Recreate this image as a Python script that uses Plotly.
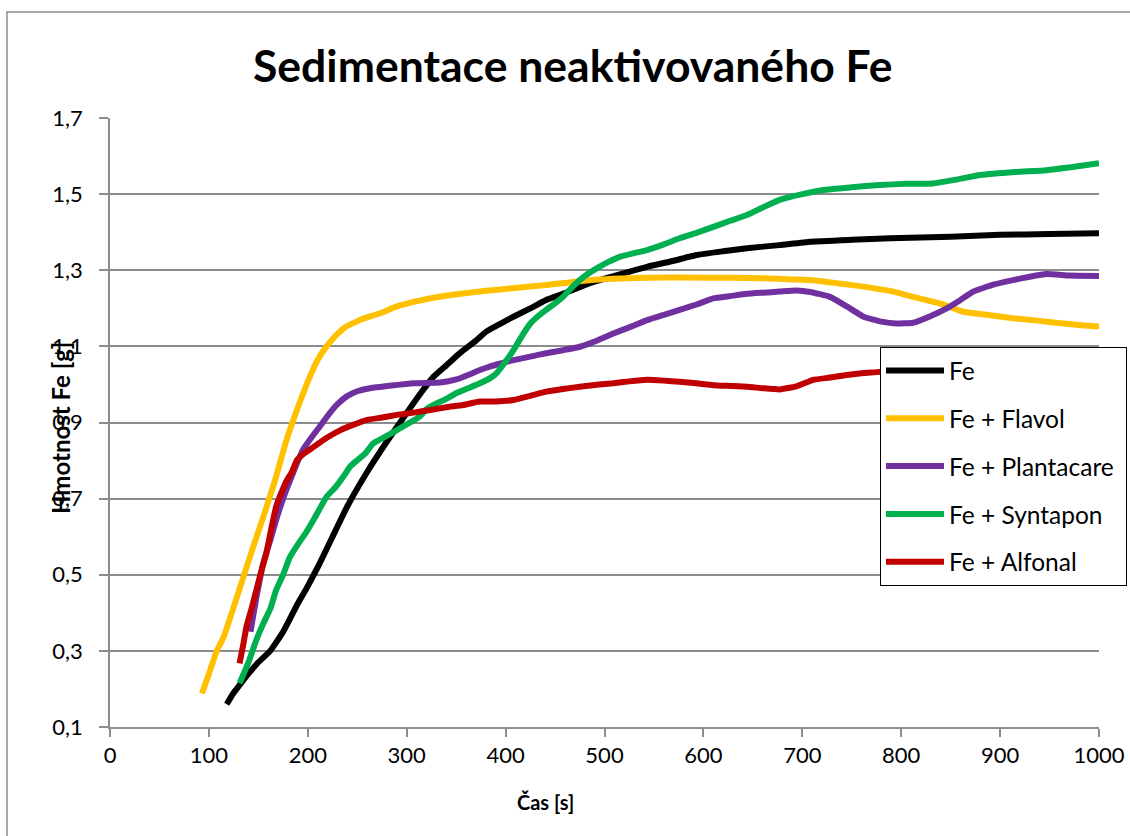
import plotly.graph_objects as go

# ---- data ----
fe_x = [118,125,131,140,150,162,175,189,200,212,225,240,260,280,300,315,327,340,354,370,381,395,408,425,441,460,485,510,543,570,593,620,644,677,708,750,789,850,900,950,1000]
fe_y = [0.16,0.19,0.21,0.24,0.27,0.30,0.35,0.42,0.47,0.53,0.60,0.68,0.77,0.85,0.925,0.98,1.02,1.05,1.083,1.115,1.14,1.16,1.178,1.20,1.222,1.24,1.266,1.285,1.309,1.325,1.34,1.35,1.358,1.366,1.375,1.38,1.384,1.388,1.393,1.395,1.397]

flavol_x = [93,100,108,115,125,135,145,155,167,178,189,202,210,219,229,239,255,273,290,307,330,357,380,404,441,485,543,580,627,660,690,711,735,762,790,812,840,863,890,913,940,964,985,1000]
flavol_y = [0.188,0.24,0.30,0.337,0.415,0.495,0.575,0.652,0.749,0.85,0.933,1.02,1.065,1.10,1.13,1.152,1.172,1.187,1.205,1.217,1.229,1.239,1.246,1.252,1.261,1.274,1.28,1.281,1.28,1.279,1.276,1.274,1.266,1.257,1.245,1.23,1.212,1.191,1.182,1.174,1.167,1.16,1.155,1.152]

plant_x = [142,148,155,162,168,175,185,195,205,212,222,230,239,250,263,285,307,334,350,364,374,384,395,408,425,441,458,475,492,509,525,543,560,576,593,610,627,644,660,677,694,708,728,745,762,780,795,812,830,846,860,873,893,913,930,947,970,1000]
plant_y = [0.35,0.44,0.53,0.59,0.644,0.70,0.767,0.828,0.865,0.889,0.924,0.948,0.968,0.982,0.99,0.997,1.003,1.005,1.013,1.027,1.038,1.047,1.055,1.064,1.073,1.082,1.09,1.099,1.115,1.134,1.15,1.169,1.183,1.196,1.21,1.226,1.232,1.238,1.241,1.244,1.247,1.243,1.23,1.205,1.178,1.165,1.16,1.162,1.18,1.2,1.222,1.244,1.262,1.274,1.283,1.29,1.286,1.285]

synt_x = [131,140,148,155,162,168,175,182,190,198,206,219,228,236,243,250,258,266,278,290,302,313,320,327,340,350,362,374,384,391,400,408,416,425,433,441,450,458,466,475,483,492,504,516,530,543,560,576,593,610,627,644,660,677,700,721,750,778,805,832,855,880,915,947,975,1000]
synt_y = [0.215,0.27,0.329,0.372,0.41,0.46,0.50,0.547,0.58,0.61,0.645,0.705,0.73,0.758,0.785,0.801,0.818,0.845,0.862,0.88,0.898,0.915,0.935,0.946,0.962,0.977,0.99,1.003,1.016,1.03,1.06,1.09,1.125,1.16,1.18,1.196,1.213,1.23,1.252,1.274,1.29,1.305,1.322,1.336,1.345,1.353,1.368,1.384,1.398,1.414,1.43,1.445,1.465,1.485,1.5,1.511,1.518,1.524,1.527,1.528,1.538,1.55,1.558,1.563,1.572,1.581]

alf_x = [131,135,138,143,148,153,158,163,168,174,179,184,189,197,206,218,233,245,260,275,290,307,324,340,357,374,390,408,425,441,458,475,492,509,525,543,560,576,593,610,627,644,660,677,694,711,728,745,762,778,800,830,860,900,950,1000]
alf_y = [0.267,0.32,0.364,0.41,0.46,0.51,0.556,0.62,0.679,0.72,0.749,0.77,0.801,0.82,0.836,0.858,0.88,0.893,0.907,0.913,0.92,0.926,0.933,0.94,0.946,0.955,0.955,0.959,0.97,0.981,0.988,0.994,0.999,1.003,1.008,1.012,1.01,1.007,1.003,0.998,0.996,0.994,0.99,0.987,0.995,1.012,1.018,1.025,1.03,1.033,1.04,1.045,1.05,1.055,1.06,1.065]

series_names = ["Fe", "Fe + Flavol", "Fe + Plantacare", "Fe + Syntapon", "Fe + Alfonal"]
series_x = [fe_x, flavol_x, plant_x, synt_x, alf_x]
series_y = [fe_y, flavol_y, plant_y, synt_y, alf_y]
colors = ["#000000", "#FFC000", "#7030A0", "#00B050", "#C00000"]

y_ticks = [0.1, 0.3, 0.5, 0.7, 0.9, 1.1, 1.3, 1.5, 1.7]
x_ticks = [0, 100, 200, 300, 400, 500, 600, 700, 800, 900, 1000]

FONT = "Lato"
fig = go.Figure()
for i, (n, xs, ys, c) in enumerate(zip(series_names, series_x, series_y, colors)):
    fig.add_trace(go.Scatter(x=xs, y=ys, mode="lines", name=n + "\u00a0", legendgroup=f"g{i}",
                             line=dict(color=c, width=6, shape="spline", smoothing=0.4)))

grid = "#8C8C8C"
fig.update_layout(
    width=1130, height=836,
    margin=dict(l=110, r=31, t=118, b=109, autoexpand=False),
    paper_bgcolor="white", plot_bgcolor="white",
    separators=", ",
    font=dict(family=FONT, size=22, color="#000000"),
    showlegend=True,
    legend=dict(x=(880 - 110) / 989, y=0.624, xanchor="left", yanchor="top",
                bgcolor="white", bordercolor="#000000", borderwidth=1,
                font=dict(family=FONT, size=24.5, color="#000000"),
                tracegroupgap=13, traceorder="grouped",
                itemwidth=58),
    xaxis=dict(range=[0, 1000], tickvals=x_ticks, showgrid=False, zeroline=False,
               showline=True, linecolor=grid, linewidth=1.5,
               ticks="outside", ticklen=8, tickcolor=grid, tickwidth=1.5,
               tickfont=dict(family=FONT, size=22)),
    yaxis=dict(range=[0.1, 1.7], tickvals=y_ticks, tickformat=".1f",
               showgrid=True, gridcolor=grid, gridwidth=1.5, zeroline=False,
               showline=True, linecolor=grid, linewidth=1.5,
               ticks="outside", ticklen=9, tickcolor=grid, tickwidth=1.5,
               tickfont=dict(family=FONT, size=22), ticklabelstandoff=12),
    shapes=[dict(type="rect", xref="paper", yref="paper",
                 x0=-0.1042, x1=1.045, y0=-0.2, y1=1.1741,
                 line=dict(color=grid, width=1.5), fillcolor="rgba(0,0,0,0)", layer="below")],
    annotations=[
        dict(text="<b>Sedimentace neaktivovaného Fe</b>", xref="paper", yref="paper",
             x=(573 - 110) / 989, y=(727 - 64) / 609, xanchor="center", yanchor="middle",
             showarrow=False, font=dict(family=FONT, size=44.5, color="#000000")),
        dict(text="<b>Čas [s]</b>", xref="paper", yref="paper",
             x=(545 - 110) / 989, y=(727 - 802) / 609, xanchor="center", yanchor="middle",
             showarrow=False, font=dict(family=FONT, size=20, color="#000000")),
        dict(text="<b>Hmotnost Fe [g]</b>", xref="paper", yref="paper", textangle=-90,
             x=(60 - 110) / 989, y=(727 - 428) / 609, xanchor="center", yanchor="middle",
             showarrow=False, font=dict(family=FONT, size=24, color="#000000")),
    ],
)

fig.write_html("out.html", config={"displayModeBar": False},
               post_script="document.body.style.margin='0px';")
